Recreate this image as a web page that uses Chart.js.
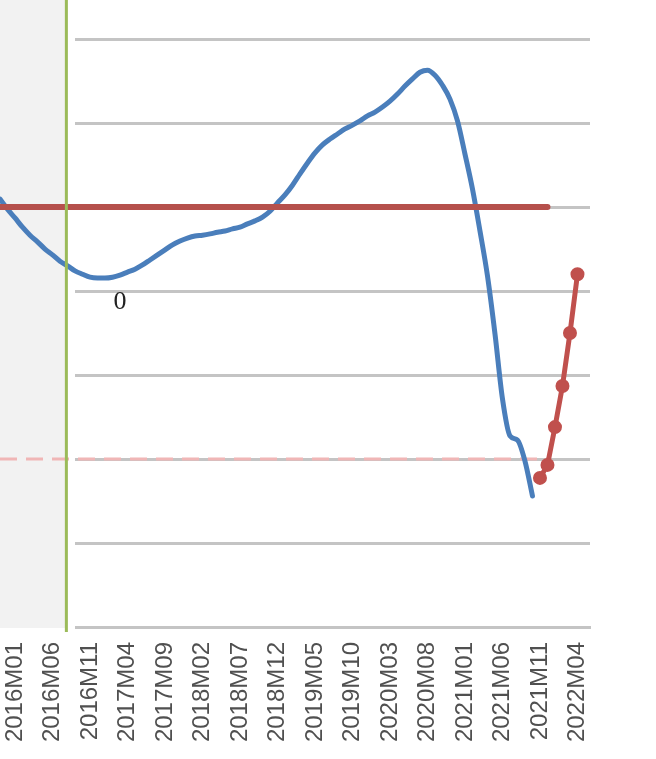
<!DOCTYPE html>
<html>
<head>
<meta charset="utf-8">
<script src="https://cdn.jsdelivr.net/npm/chart.js@4.4.1/dist/chart.umd.min.js"></script>
<style>
  html, body { margin: 0; padding: 0; background: #ffffff; }
  #chart { display: block; }
</style>
</head>
<body>
<canvas id="chart" width="656" height="759"></canvas>
<script>
  // month index 0 = 2015M11
  const months = [];
  for (let y = 2015; y <= 2022; y++) {
    for (let m = 1; m <= 12; m++) {
      if ((y === 2015 && m < 11) || (y === 2022 && m > 6)) continue;
      months.push(y + 'M' + String(m).padStart(2, '0'));
    }
  }

  const tickMonths = ['2016M01', '2016M06', '2016M11', '2017M04', '2017M09', '2018M02',
    '2018M07', '2018M12', '2019M05', '2019M10', '2020M03', '2020M08',
    '2021M01', '2021M06', '2021M11', '2022M04'];

  const yTicks = [-8, -6, -4, -2, 0, 2, 4, 6];

  // blue series, 2015M11 .. 2021M10
  const blueValues = [
    2.19, 1.95, 1.74, 1.52, 1.33, 1.17, 1.00, 0.86, 0.71, 0.60,
    0.48, 0.40, 0.33, 0.31, 0.31, 0.33, 0.38, 0.45, 0.52, 0.62,
    0.74, 0.86, 0.98, 1.10, 1.19, 1.26, 1.31, 1.33, 1.36, 1.40,
    1.43, 1.48, 1.52, 1.60, 1.67, 1.76, 1.90, 2.10, 2.29, 2.52,
    2.79, 3.05, 3.29, 3.48, 3.62, 3.74, 3.86, 3.95, 4.05, 4.17,
    4.26, 4.38, 4.52, 4.69, 4.88, 5.05, 5.21, 5.26, 5.14, 4.90,
    4.57, 4.05, 3.26, 2.43, 1.43, 0.36, -1.02, -2.57, -3.45, -3.55,
    -4.05, -4.88
  ];

  // red forecast, 2021M11 .. 2022M04
  const forecastMonths = ['2021M11', '2021M12', '2022M01', '2022M02', '2022M03', '2022M04'];
  const forecastValues = [-4.45, -4.14, -3.24, -2.26, -1.00, 0.40];

  const targetValue = 2;
  const targetEnd = '2021M12';
  const lowerValue = -4;
  const lowerEnd = '2021M12';

  const shadeEnd = 8.85;       // green marker line, in month index
  const axisStart = '2016M09';
  const zeroLabelMonth = '2017M03';

  const idx = m => months.indexOf(m);
  const flatLine = (v, endMonth) => [{ x: 0, y: v }, { x: idx(endMonth), y: v }];

  const backdrop = {
    id: 'backdrop',
    beforeDatasetsDraw(chart) {
      const { ctx, chartArea: a, scales: { x } } = chart;
      ctx.save();
      ctx.fillStyle = '#ffffff';
      ctx.fillRect(a.left, a.top - 2, x.getPixelForValue(idx(axisStart)) - a.left, a.bottom - a.top + 6);
      ctx.fillStyle = '#f2f2f2';
      ctx.fillRect(a.left, a.top - 2, x.getPixelForValue(shadeEnd) - a.left, a.bottom - a.top + 3);
      ctx.restore();
    },
    afterDatasetsDraw(chart) {
      const { ctx, scales: { x, y } } = chart;
      ctx.save();
      ctx.font = '26px "Liberation Serif", serif';
      ctx.fillStyle = '#222222';
      ctx.textAlign = 'center';
      ctx.textBaseline = 'middle';
      ctx.fillText('0', x.getPixelForValue(idx(zeroLabelMonth)), y.getPixelForValue(0) + 11);
      ctx.restore();
    }
  };

  new Chart(document.getElementById('chart').getContext('2d'), {
    type: 'line',
    data: {
      datasets: [
        {
          data: [{ x: shadeEnd, y: -8.12 }, { x: shadeEnd, y: 7.2 }],
          borderColor: '#9bbb59',
          borderWidth: 3,
          pointRadius: 0,
          clip: false,
          order: 0
        },
        {
          data: flatLine(targetValue, targetEnd),
          borderColor: '#b5504c',
          borderWidth: 6,
          borderCapStyle: 'round',
          pointRadius: 0,
          order: 1
        },
        {
          data: forecastValues.map((v, i) => ({ x: idx(forecastMonths[i]), y: v })),
          borderColor: '#c0504d',
          backgroundColor: '#c0504d',
          borderWidth: 5,
          pointRadius: 6,
          pointBorderWidth: 2,
          order: 2
        },
        {
          data: blueValues.map((v, i) => ({ x: i, y: v })),
          borderColor: '#4a7ebb',
          borderWidth: 5,
          borderCapStyle: 'round',
          pointRadius: 0,
          cubicInterpolationMode: 'monotone',
          order: 3
        },
        {
          data: flatLine(lowerValue, lowerEnd),
          borderColor: '#f0b6b6',
          borderWidth: 3,
          borderDash: [17, 9],
          pointRadius: 0,
          order: 4
        }
      ]
    },
    options: {
      responsive: false,
      animation: false,
      layout: { autoPadding: false, padding: { left: 0, top: 0, right: 66, bottom: 0 } },
      plugins: { legend: { display: false }, tooltip: { enabled: false } },
      scales: {
        x: {
          type: 'linear',
          min: 0,
          max: 78.67,
          afterBuildTicks: s => { s.ticks = tickMonths.map(m => ({ value: idx(m) })); },
          afterFit: s => { s.height = 132; s.paddingLeft = 0; s.paddingRight = 0; },
          grid: { display: false, drawTicks: false },
          border: { display: true, color: '#c4c4c4', width: 3 },
          ticks: {
            autoSkip: false,
            minRotation: 90,
            maxRotation: 90,
            padding: 15,
            color: '#505050',
            font: { family: '"Liberation Sans", Arial, sans-serif', size: 24 },
            callback: v => months[v]
          }
        },
        y: {
          min: -8,
          max: 6.93,
          afterBuildTicks: s => { s.ticks = yTicks.map(v => ({ value: v })); },
          afterFit: s => { s.width = 0; s.paddingTop = 0; s.paddingBottom = 0; },
          grid: { color: '#c4c4c4', lineWidth: 3, drawTicks: false },
          border: { display: false },
          ticks: { display: false }
        }
      }
    },
    plugins: [backdrop]
  });
</script>
</body>
</html>
